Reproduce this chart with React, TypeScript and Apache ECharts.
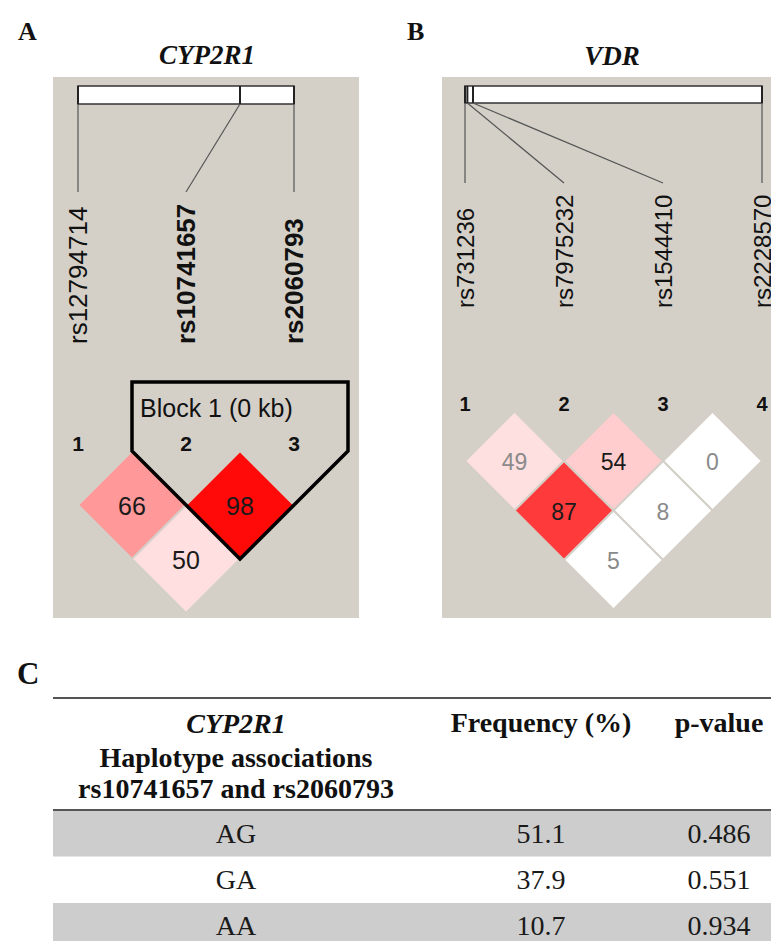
import React, { useEffect, useRef } from "react";
import * as echarts from "echarts";

// ---------- Data ----------
// Panel A: CYP2R1
const snpsA = ["rs12794714", "rs10741657", "rs2060793"];
const physPosA = [0, 0.75, 1]; // relative position along the gene bar
const blockA = [2, 3];
const blockLabelA = "Block 1 (0 kb)";
const pairsA = [
  [1, 2],
  [2, 3],
  [1, 3],
];
const dprimeA = [66, 98, 50];
const lodSigA = [1, 1, 1];

// Panel B: VDR
const snpsB = ["rs731236", "rs7975232", "rs1544410", "rs2228570"];
const physPosB = [0, 0.008, 0.027, 1];
const pairsB = [
  [1, 2],
  [2, 3],
  [3, 4],
  [1, 3],
  [2, 4],
  [1, 4],
];
const dprimeB = [49, 54, 0, 87, 8, 5];
const lodSigB = [1, 1, 0, 1, 0, 0];

// Panel C: haplotype table
const tableHeader1 = ["CYP2R1", "Haplotype associations", "rs10741657 and rs2060793"];
const tableHeader2 = "Frequency (%)";
const tableHeader3 = "p-value";
const haplotypes = ["AG", "GA", "AA"];
const frequencies = ["51.1", "37.9", "10.7"];
const pValues = ["0.486", "0.551", "0.934"];

// ---------- Styles / layout ----------
const BG = "#D4D0C8";
const SANS = "'Liberation Sans', Arial, sans-serif";
const SERIF = "'Liberation Serif', 'Times New Roman', serif";

const layoutA = {
  firstX: 78, step: 108, row0: 451, barTop: 86, barBottom: 104, lineEnd: 192,
  labelBottom: 344, labelSize: 26, numY: 443, numSize: 21, cellSize: 25, blockH: 69,
  bg: [53, 77, 306, 541],
};
const layoutB = {
  firstX: 465, step: 99, row0: 411.5, barTop: 86, barBottom: 103, lineEnd: 183,
  labelBottom: 308, labelSize: 24, numY: 404, numSize: 20, cellSize: 23, blockH: 0,
  bg: [442, 77, 340, 541],
};

function ldColor(d: number, sig: boolean) {
  const dp = d / 100;
  if (sig) {
    if (dp < 0.5) return "rgb(255,224,224)";
    const v = Math.round((255 - 32) * 2 * (1 - dp));
    return `rgb(255,${v},${v})`;
  }
  if (dp > 0.99) return "rgb(192,192,240)";
  return "#FFFFFF";
}

function textStyle(text: string, o: any) {
  return {
    text,
    fill: o.fill || "#111",
    fontSize: o.fontSize,
    fontFamily: o.fontFamily || SANS,
    fontWeight: o.fontWeight || "normal",
    fontStyle: o.fontStyle || "normal",
    align: o.align || "center",
    verticalAlign: o.verticalAlign || "middle",
    textAlign: o.align || "center",
    textVerticalAlign: o.verticalAlign || "middle",
  };
}

function panelSeries(g: number, snps: string[], pos: number[], pairs: number[][], dprime: number[], sig: number[], block: number[] | null, blockLabel: string, L: any) {
  const n = snps.length;
  const common = { type: "custom", xAxisIndex: g, yAxisIndex: g, silent: true, clip: false };
  const series: any[] = [];

  series.push({
    ...common,
    data: [[1, n]],
    renderItem: (_p: any, api: any) => {
      const a = api.coord([api.value(0), 0]);
      const b = api.coord([api.value(1), 0]);
      return {
        type: "rect",
        shape: { x: a[0], y: L.barTop, width: b[0] - a[0], height: L.barBottom - L.barTop },
        style: { fill: "#FFFFFF", stroke: "#333", lineWidth: 1.5 },
      };
    },
  });

  series.push({
    ...common,
    data: snps.map((_s, i) => [i + 1, pos[i]]),
    renderItem: (params: any, api: any) => {
      const idx = api.value(0);
      const p = api.value(1);
      const physX = api.coord([1 + p * (n - 1), 0])[0];
      const idxX = api.coord([idx, 0])[0];
      const bold = block ? block.indexOf(idx) >= 0 : false;
      return {
        type: "group",
        children: [
          { type: "line", shape: { x1: physX, y1: L.barTop, x2: physX, y2: L.barBottom }, style: { stroke: "#222", lineWidth: 2 } },
          { type: "line", shape: { x1: physX, y1: L.barBottom, x2: idxX, y2: L.lineEnd }, style: { stroke: "#555", lineWidth: 1.2 } },
          {
            type: "text", x: idxX, y: L.labelBottom, rotation: Math.PI / 2,
            style: textStyle(snps[params.dataIndex], { fontSize: L.labelSize, fontWeight: bold ? "bold" : "normal", align: "left", verticalAlign: "middle" }),
          },
          {
            type: "text", x: idxX, y: L.numY,
            style: textStyle(String(idx), { fontSize: L.numSize, fontWeight: "bold" }),
          },
        ],
      };
    },
  });

  series.push({
    ...common,
    data: pairs.map((pr, k) => [pr[0], pr[1], dprime[k], sig[k]]),
    renderItem: (_params: any, api: any) => {
      const i = api.value(0), j = api.value(1), d = api.value(2), s = api.value(3) === 1;
      const cx = (i + j) / 2, r = j - i;
      const top = api.coord([cx, r - 1]);
      const right = api.coord([cx + 0.5, r]);
      const bot = api.coord([cx, r + 1]);
      const left = api.coord([cx - 0.5, r]);
      const c = api.coord([cx, r]);
      return {
        type: "group",
        children: [
          { type: "polygon", shape: { points: [top, right, bot, left] }, style: { fill: ldColor(d, s), stroke: BG, lineWidth: 2 } },
          { type: "text", x: c[0], y: c[1] + 1, style: textStyle(String(d), { fontSize: L.cellSize, fill: d < 50 ? "#8a8a8a" : "#1a1a1a" }) },
        ],
      };
    },
  });

  if (block) {
    series.push({
      ...common,
      data: [[block[0], block[block.length - 1]]],
      renderItem: (_params: any, api: any) => {
        const f = api.value(0), l = api.value(1);
        const lt = api.coord([f - 0.5, 0]);
        const rt = api.coord([l + 0.5, 0]);
        const bt = api.coord([(f + l) / 2, l - f + 1]);
        const top = lt[1] - L.blockH;
        return {
          type: "group",
          children: [
            {
              type: "polygon",
              shape: { points: [[lt[0], top], [rt[0], top], rt, bt, lt] },
              style: { fill: "none", stroke: "#000", lineWidth: 3.5, lineJoin: "miter" },
            },
            { type: "text", x: lt[0] + 8, y: top + 26, style: textStyle(blockLabel, { fontSize: 25, align: "left" }) },
          ],
        };
      },
    });
  }
  return series;
}

function buildOption() {
  const panels = [
    { L: layoutA, n: snpsA.length },
    { L: layoutB, n: snpsB.length },
  ];
  const grid = panels.map(({ L, n }) => ({
    left: L.firstX - L.step / 2,
    top: L.row0,
    width: L.step * (n - 0.5),
    height: (L.step / 2) * (n - 1),
    show: false,
  }));
  const xAxis = panels.map(({ n }, g) => ({ type: "value", gridIndex: g, min: 0.5, max: n, show: false }));
  const yAxis = panels.map(({ n }, g) => ({ type: "value", gridIndex: g, min: 0, max: n - 1, inverse: true, show: false }));

  const series = [
    ...panelSeries(0, snpsA, physPosA, pairsA, dprimeA, lodSigA, blockA, blockLabelA, layoutA),
    ...panelSeries(1, snpsB, physPosB, pairsB, dprimeB, lodSigB, null, "", layoutB),
  ];

  const elements: any[] = [];
  // backgrounds
  for (const L of [layoutA, layoutB]) {
    elements.push({ type: "rect", z: 0, shape: { x: L.bg[0], y: L.bg[1], width: L.bg[2], height: L.bg[3] }, style: { fill: BG } });
  }
  // panel letters and gene titles
  elements.push({ type: "text", z: 10, x: 18, y: 31, style: textStyle("A", { fontFamily: SERIF, fontWeight: "bold", fontSize: 26, align: "left" }) });
  elements.push({ type: "text", z: 10, x: 407, y: 31, style: textStyle("B", { fontFamily: SERIF, fontWeight: "bold", fontSize: 26, align: "left" }) });
  elements.push({ type: "text", z: 10, x: 207, y: 55, style: textStyle("CYP2R1", { fontFamily: SERIF, fontWeight: "bold", fontStyle: "italic", fontSize: 27 }) });
  elements.push({ type: "text", z: 10, x: 612, y: 56, style: textStyle("VDR", { fontFamily: SERIF, fontWeight: "bold", fontStyle: "italic", fontSize: 27 }) });

  // Table C
  const colX = [236, 541, 719];
  const tLeft = 53, tRight = 771;
  const headTop = 698, headBottom = 810, rowH = 46.5;
  elements.push({ type: "text", z: 10, x: 17, y: 673, style: textStyle("C", { fontFamily: SERIF, fontWeight: "bold", fontSize: 31, align: "left" }) });
  haplotypes.forEach((h, i) => {
    const y0 = headBottom + i * rowH;
    if (i % 2 === 0) {
      elements.push({ type: "rect", z: 1, shape: { x: tLeft, y: y0, width: tRight - tLeft, height: rowH }, style: { fill: "#CDCDCD" } });
    }
    const cy = y0 + 23 - i * 0.5;
    [h, frequencies[i], pValues[i]].forEach((t, c) => {
      elements.push({ type: "text", z: 10, x: colX[c], y: cy, style: textStyle(t, { fontFamily: SERIF, fontSize: 28, fill: "#1a1a1a" }) });
    });
  });
  const headYs = [723, 757, 788];
  tableHeader1.forEach((t, i) => {
    elements.push({
      type: "text", z: 10, x: colX[0], y: headYs[i],
      style: textStyle(t, { fontFamily: SERIF, fontWeight: "bold", fontStyle: i === 0 ? "italic" : "normal", fontSize: 28 }),
    });
  });
  elements.push({ type: "text", z: 10, x: colX[1], y: 722, style: textStyle(tableHeader2, { fontFamily: SERIF, fontWeight: "bold", fontSize: 28 }) });
  elements.push({ type: "text", z: 10, x: colX[2], y: 722, style: textStyle(tableHeader3, { fontFamily: SERIF, fontWeight: "bold", fontSize: 28 }) });
  for (const y of [headTop, headBottom]) {
    elements.push({ type: "line", z: 5, shape: { x1: tLeft, y1: y, x2: tRight, y2: y }, style: { stroke: "#555", lineWidth: 2 } });
  }

  return {
    animation: false,
    backgroundColor: "#FFFFFF",
    grid,
    xAxis,
    yAxis,
    series,
    graphic: { elements },
  };
}

export default function App() {
  const ref = useRef<HTMLDivElement>(null);
  useEffect(() => {
    const chart = echarts.init(ref.current as HTMLDivElement, null, { renderer: "svg" });
    chart.setOption(buildOption() as any);
    return () => chart.dispose();
  }, []);
  return (
    <div
      ref={ref}
      style={{ position: "absolute", left: 0, top: 0, width: 771, height: 941, background: "#FFFFFF" }}
    />
  );
}
